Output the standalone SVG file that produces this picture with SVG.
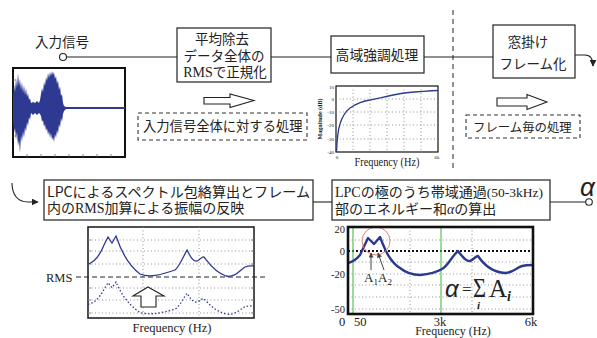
<svg xmlns="http://www.w3.org/2000/svg" width="597" height="338" viewBox="0 0 597 338">
<defs>
<style>
.jp{font-family:"Noto Sans CJK JP","Noto Sans",sans-serif;fill:#222}
.sr{font-family:"Liberation Serif","Noto Sans CJK JP",serif;fill:#222}
.box{fill:#fff;stroke:#222;stroke-width:1.2}
.dbox{fill:none;stroke:#333;stroke-width:1.1;stroke-dasharray:4 3}
.ln{fill:none;stroke:#222;stroke-width:1.1}
.grid{fill:none;stroke:#888;stroke-width:0.9;stroke-dasharray:1 2.5}
.blue{fill:none;stroke:#2E3A92;stroke-width:1.3}
.hollow{fill:#fff;stroke:#222;stroke-width:1.1}
.tick{stroke:#666;stroke-width:0.8}
</style>
<marker id="ah" viewBox="0 0 10 10" refX="9" refY="5" markerWidth="7" markerHeight="7" orient="auto" markerUnits="userSpaceOnUse"><path d="M0,0 L10,5 L0,10 Z" fill="#222"/></marker>
<marker id="ahs" viewBox="0 0 10 10" refX="9" refY="5" markerWidth="5" markerHeight="5" orient="auto" markerUnits="userSpaceOnUse"><path d="M0,0 L10,5 L0,10 Z" fill="#444"/></marker>
</defs>
<rect width="597" height="338" fill="#fff"/>

<g id="connectors">
<line class="ln" x1="67" y1="57" x2="177" y2="57"/>
<line class="ln" x1="271" y1="57" x2="331" y2="57"/>
<line class="ln" x1="424" y1="57" x2="493" y2="57"/>
<path class="ln" d="M575,55 L585,55 C590,55 593,59 593,66" marker-end="url(#ah)"/>
<path class="ln" d="M12,183 C12,195 18,202 28,202 L38,202" marker-end="url(#ah)"/>
<line class="ln" x1="313" y1="202" x2="332" y2="202"/>
<line class="ln" x1="550" y1="202" x2="586" y2="202"/>
<line x1="453" y1="10" x2="453" y2="170" stroke="#222" stroke-width="1" stroke-dasharray="5 4"/>
</g>

<g id="input">
<text class="jp" x="35" y="47" font-size="13.5">入力信号</text>
<circle cx="63" cy="57" r="3.5" fill="#fff" stroke="#222" stroke-width="1.1"/>
</g>

<g id="waveform">
<rect x="13" y="68" width="112" height="89" fill="#fff" stroke="#111" stroke-width="2"/>
<g class="tick">
<line x1="27" y1="157" x2="27" y2="154"/><line x1="41" y1="157" x2="41" y2="154"/><line x1="55" y1="157" x2="55" y2="154"/><line x1="69" y1="157" x2="69" y2="154"/><line x1="83" y1="157" x2="83" y2="154"/><line x1="97" y1="157" x2="97" y2="154"/><line x1="111" y1="157" x2="111" y2="154"/>
<line x1="13" y1="80" x2="16" y2="80"/><line x1="13" y1="94" x2="16" y2="94"/><line x1="13" y1="122" x2="16" y2="122"/><line x1="13" y1="136" x2="16" y2="136"/>
</g>
<path fill="#2E3A92" d="M13,108 L13,96 L14,84 L15,92 L16,78 L17,88 L18,73 L19,86 L20,79 L21,90 L22,82 L23,93 L24,85 L25,95 L26,88 L27,97 L28,93 L29,100 L30,98 L31,103 L33,102 L35,103 L37,101 L39,103 L40,100 L41,94 L42,88 L43,92 L44,82 L45,86 L46,77 L47,81 L48,73 L49,78 L50,72 L51,76 L52,71 L53,75 L54,72 L55,79 L56,76 L57,84 L58,80 L59,90 L60,86 L61,96 L62,94 L63,103 L64,106 L66,107 L125,107 L125,109 L66,109 L64,111 L63,114 L62,122 L61,118 L60,128 L59,124 L58,134 L57,130 L56,138 L55,134 L54,142 L53,137 L52,140 L51,133 L50,138 L49,131 L48,135 L47,128 L46,131 L45,124 L44,127 L43,120 L42,122 L41,116 L40,114 L39,113 L37,115 L35,113 L33,115 L31,113 L30,120 L29,117 L28,126 L27,122 L26,132 L25,127 L24,138 L23,131 L22,142 L21,135 L20,153 L19,140 L18,146 L17,132 L16,140 L15,128 L14,133 L13,120 Z"/>
</g>

<g id="normalize">
<rect class="box" x="177" y="28" width="94" height="54"/>
<text class="jp" x="222" y="44" font-size="13.5" text-anchor="middle">平均除去</text>
<text class="jp" x="224" y="61" font-size="13.5" text-anchor="middle">データ全体の</text>
<text class="jp" x="225" y="77" font-size="13.5" text-anchor="middle"><tspan class="sr" font-size="14">RMS</tspan>で正規化</text>
</g>

<g id="emphasis">
<rect class="box" x="331" y="36" width="93" height="37"/>
<text class="jp" x="377" y="59.5" font-size="13.8" text-anchor="middle">高域強調処理</text>
</g>

<g id="framing">
<rect class="box" x="493" y="25" width="82" height="53"/>
<text class="jp" x="528" y="47" font-size="13.5" text-anchor="middle">窓掛け</text>
<text class="jp" x="533" y="69" font-size="13.5" text-anchor="middle">フレーム化</text>
</g>

<g id="whole-note">
<polygon class="hollow" points="204,97.5 230,97.5 230,94 254,100.5 230,107.5 230,104 204,104"/>
<rect class="dbox" x="138" y="113" width="169" height="27"/>
<text class="jp" x="143" y="131" font-size="13.3">入力信号全体に対する処理</text>
</g>

<g id="frame-note">
<polygon class="hollow" points="497,98 527,98 527,94.5 547,102 527,109.5 527,106 497,106"/>
<rect class="dbox" x="466" y="115" width="114" height="23"/>
<text class="jp" x="473" y="131.5" font-size="12.4">フレーム毎の処理</text>
</g>

<g id="magnitude-plot">
<rect x="336" y="86" width="102" height="66" fill="#fff" stroke="#111" stroke-width="1.2"/>
<path class="grid" d="M353,86 V152 M370,86 V152 M387,86 V152 M404,86 V152 M421,86 V152 M336,99 H438 M336,112 H438 M336,125 H438 M336,139 H438"/>
<path class="blue" d="M336.5,152 C337,140 338,130 340,124 C342,117 345,112 350,108 C356,104 362,101 370,100 C380,98 392,95 404,93 C415,92 426,91 438,90.5"/>
<g class="sr" font-size="5" text-anchor="end" fill="#555">
<text x="334" y="89">10</text><text x="334" y="101">0</text><text x="334" y="114">-10</text><text x="334" y="127">-20</text><text x="334" y="141">-30</text><text x="334" y="154">-40</text>
</g>
<text class="sr" x="337" y="159" font-size="5" text-anchor="middle">0</text>
<text class="sr" x="437" y="159" font-size="5" text-anchor="middle">6k</text>
<text class="sr" x="322" y="119" font-size="6" font-weight="bold" text-anchor="middle" transform="rotate(-90 322 119)">Magnitude  (dB)</text>
<text class="sr" x="387" y="166" font-size="12.5" text-anchor="middle" textLength="65" lengthAdjust="spacingAndGlyphs">Frequency (Hz)</text>
</g>

<g id="lpc-envelope">
<rect class="box" x="44" y="180" width="269" height="40"/>
<text class="jp" x="47" y="197" font-size="14" textLength="263" lengthAdjust="spacingAndGlyphs">LPCによるスペクトル包絡算出とフレーム</text>
<text class="jp" x="47" y="213" font-size="14">内の<tspan class="sr">RMS</tspan>加算による振幅の反映</text>
</g>

<g id="lpc-plot">
<rect x="88" y="227" width="166" height="91" fill="#fff" stroke="#222" stroke-width="1.6"/>
<path class="grid" d="M143,227 V318 M199,227 V318 M88,240 H254 M88,251 H254 M88,264 H254 M88,288 H254 M88,300 H254 M88,313 H254"/>
<g class="tick"><line x1="88" y1="240" x2="91" y2="240"/><line x1="88" y1="251" x2="91" y2="251"/><line x1="88" y1="264" x2="91" y2="264"/><line x1="88" y1="288" x2="91" y2="288"/><line x1="88" y1="300" x2="91" y2="300"/><line x1="88" y1="313" x2="91" y2="313"/><line x1="254" y1="240" x2="251" y2="240"/><line x1="254" y1="251" x2="251" y2="251"/><line x1="254" y1="264" x2="251" y2="264"/><line x1="254" y1="288" x2="251" y2="288"/><line x1="254" y1="300" x2="251" y2="300"/><line x1="254" y1="313" x2="251" y2="313"/></g>
<line x1="76" y1="277" x2="265" y2="277" stroke="#222" stroke-width="1" stroke-dasharray="5 3"/>
<path class="blue" d="M88,264 C95,262 100,255 104,245 L108,237 L112,243 L116,236 C120,248 128,265 140,274 C150,278 160,275 175,270 C180,266 184,255 187,250 C190,256 193,262 197,261 C200,260 202,256 204,257 C208,262 214,272 226,276 C235,278 240,270 245,267 C250,265 252,266 254,266"/>
<path class="blue" stroke-dasharray="1.5 2" vector-effect="non-scaling-stroke" transform="matrix(1 0 0 0.8 0 93.2)" d="M88,264 C95,262 100,255 104,245 L108,237 L112,243 L116,236 C120,248 128,265 140,274 C150,278 160,275 175,270 C180,266 184,255 187,250 C190,256 193,262 197,261 C200,260 202,256 204,257 C208,262 214,272 226,276 C235,278 240,270 245,267 C250,265 252,266 254,266"/>
<polygon class="hollow" points="148,287 164,296 156,296 156,307 141,307 141,296 133,296"/>
<text class="sr" x="46" y="281.5" font-size="12.5">RMS</text>
<text class="sr" x="172" y="332" font-size="12.5" text-anchor="middle">Frequency (Hz)</text>
</g>

<g id="alpha-calc">
<rect class="box" x="332" y="180" width="218" height="40"/>
<text class="jp" x="335" y="197" font-size="14"><tspan class="sr">LPC</tspan>の極のうち帯域通過<tspan class="sr" font-size="13.5">(50-3kHz)</tspan></text>
<text class="jp" x="335" y="213.5" font-size="14">部のエネルギー和<tspan class="sr" font-style="italic">α</tspan>の算出</text>
</g>

<g id="alpha-plot">
<rect x="348" y="227" width="185" height="87" fill="#fff" stroke="none"/>
<path class="grid" d="M410,227 V314 M472,227 V314 M348,240 H533 M348,262 H533 M348,274 H533 M348,285 H533 M348,297 H533 M348,309 H533"/>
<line x1="348" y1="251" x2="533" y2="251" stroke="#111" stroke-width="1.8" stroke-dasharray="2 2"/>
<line x1="353" y1="227" x2="353" y2="314" stroke="#5CBF5C" stroke-width="1.2"/>
<line x1="441" y1="227" x2="441" y2="314" stroke="#5CBF5C" stroke-width="1.2"/>
<path fill="none" stroke="#2B3990" stroke-width="2.4" stroke-linejoin="round" d="M348,263 C352,262 356,260 360,255 L368,238 L374,244 L380,237 C385,250 390,262 400,268 C405,272 410,275 420,275 C430,274 437,272 442,269 C448,266 452,256 458,251 C462,256 466,262 470,261 C474,259 476,256 478,256 C482,262 490,272 505,273 C512,273 516,268 522,266 C526,265 530,265 533,265"/>
<circle cx="376" cy="241" r="14" fill="none" stroke="#E8807A" stroke-width="1"/>
<line x1="371" y1="270" x2="371" y2="253" stroke="#444" stroke-width="1" marker-end="url(#ahs)"/>
<line x1="384" y1="270" x2="378" y2="253" stroke="#444" stroke-width="1" marker-end="url(#ahs)"/>
<text class="sr" x="364" y="282" font-size="13">A<tspan font-size="9" dy="3">1</tspan></text>
<text class="sr" x="378" y="282" font-size="13">A<tspan font-size="9" dy="3">2</tspan></text>
<rect x="348" y="227" width="185" height="87" fill="none" stroke="#111" stroke-width="2.6"/>
<g class="sr" font-size="10.5" text-anchor="end">
<text x="345" y="233">20</text><text x="345" y="255">0</text><text x="345" y="278">-20</text><text x="345" y="313">-50</text>
</g>
<text class="sr" x="339" y="325.5" font-size="12.5">0</text>
<text class="sr" x="354" y="325.5" font-size="12.5">50</text>
<text class="sr" x="440" y="325.5" font-size="12.5" text-anchor="middle">3k</text>
<text class="sr" x="531" y="325.5" font-size="12.5" text-anchor="middle">6k</text>
<text class="sr" x="453" y="335" font-size="12" text-anchor="middle">Frequency (Hz)</text>
<text x="445" y="297" font-family="Liberation Sans, sans-serif" font-style="italic" font-size="24" fill="#222">α</text>
<text x="462" y="295" font-family="Liberation Serif, serif" font-size="17" fill="#222">=</text>
<text x="473" y="297" font-family="Liberation Serif, serif" font-size="28" textLength="13" lengthAdjust="spacingAndGlyphs" fill="#222">Σ</text>
<text x="477" y="309" font-family="Liberation Serif, serif" font-size="11" font-style="italic" font-weight="bold" fill="#222">i</text>
<text x="489" y="297" font-family="Liberation Serif, serif" font-size="25" fill="#222">A<tspan font-size="14" font-style="italic" font-weight="bold" dy="4">i</tspan></text>
</g>

<g id="output">
<circle cx="589" cy="202" r="3.3" fill="#fff" stroke="#222" stroke-width="1.1"/>
<text x="580" y="196" font-family="Liberation Sans, sans-serif" font-style="italic" font-size="26" fill="#222">α</text>
</g>
</svg>
